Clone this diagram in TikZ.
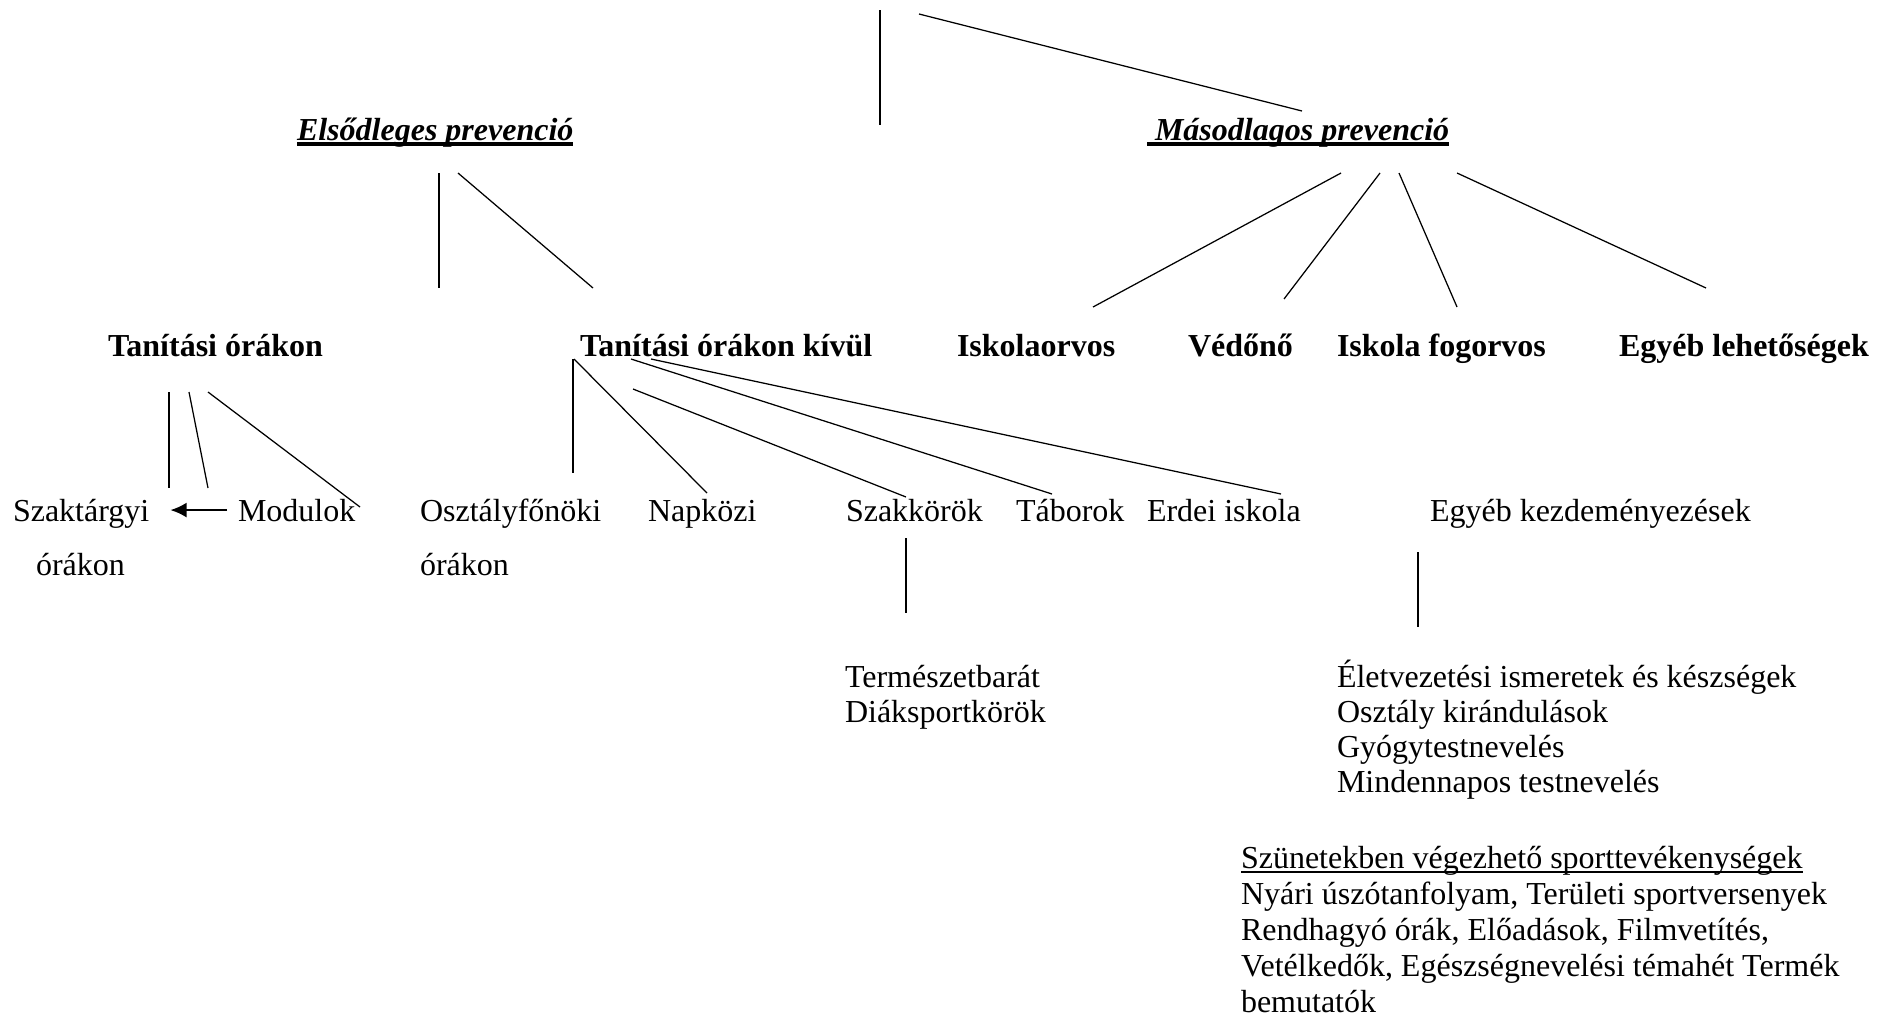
\documentclass[tikz,border=0pt]{standalone}
\usepackage{fontspec}
\setmainfont{Liberation Serif}
\usetikzlibrary{arrows.meta,calc}

\begin{document}
\begin{tikzpicture}[x=0.4pt,y=-0.4pt,
	szoveg/.style={anchor=base west,inner sep=0pt,outer sep=0pt,font=\fontsize{12.8}{15}\selectfont},
	fej/.style={szoveg,font=\fontsize{12.8}{15}\selectfont\bfseries},
	prev/.style={szoveg,font=\fontsize{12.8}{15}\selectfont\bfseries\itshape},
	ag/.style={black,line width=0.5pt},
	nyil/.style={black,line width=1pt,-{Latex[length=6.5pt,width=6pt]}}]
	\useasboundingbox (0,0) rectangle (1890,1022);
	
	%Prevenció
	\node[prev] (elso) at (297,140) {Elsődleges prevenció};
	\node[prev] (maso) at (1147,140) {\ Másodlagos prevenció};
	\draw[black,line width=1.6pt] ($(elso.base west)+(0,4)$) -- ($(elso.base east)+(0,4)$)
	($(maso.base west)+(0,4)$) -- ($(maso.base east)+(0,4)$);
	
	%Második szint
	\node[fej] (tanor) at (108,356) {Tanítási órákon};
	\node[fej] (kivul) at (580,356) {Tanítási órákon kívül};
	\node[fej] (iskorv) at (957,356) {Iskolaorvos};
	\node[fej] (vedono) at (1188,356) {Védőnő};
	\node[fej] (fogorv) at (1337,356) {Iskola fogorvos};
	\node[fej] (egyleh) at (1619,356) {Egyéb lehetőségek};
	
	%Harmadik szint
	\node[szoveg] (szak1) at (13,521) {Szaktárgyi};
	\node[szoveg] (szak2) at (36,575) {órákon};
	\node[szoveg] (modul) at (238,521) {Modulok};
	\node[szoveg] (oszt1) at (420,521) {Osztályfőnöki};
	\node[szoveg] (oszt2) at (420,575) {órákon};
	\node[szoveg] (napk) at (648,521) {Napközi};
	\node[szoveg] (szakk) at (846,521) {Szakkörök};
	\node[szoveg] (tabor) at (1016,521) {Táborok};
	\node[szoveg] (erdei) at (1147,521) {Erdei iskola};
	\node[szoveg] (egykezd) at (1430,521) {Egyéb kezdeményezések};
	
	\draw[nyil,shorten <=4.4pt,shorten >=8.4pt] (modul.west) -- (modul.west -| szak1.east);
	
	%Negyedik szint
	\node[szoveg] (term) at (845,687) {Természetbarát};
	\node[szoveg] (diak) at (845,722) {Diáksportkörök};
	\node[szoveg] (elet1) at (1337,687) {Életvezetési ismeretek és készségek};
	\node[szoveg] (elet2) at (1337,722) {Osztály kirándulások};
	\node[szoveg] (elet3) at (1337,757) {Gyógytestnevelés};
	\node[szoveg] (elet4) at (1337,792) {Mindennapos testnevelés};
	
	\node[szoveg] (szun) at (1241,868) {Szünetekben végezhető sporttevékenységek};
	\draw[black,line width=0.8pt] ($(szun.base west)+(0,4)$) -- ($(szun.base east)+(0,4)$);
	\node[szoveg] (szun1) at (1241,904) {Nyári úszótanfolyam, Területi sportversenyek};
	\node[szoveg] (szun2) at (1241,940) {Rendhagyó órák, Előadások, Filmvetítés,};
	\node[szoveg] (szun3) at (1241,976) {Vetélkedők, Egészségnevelési témahét Termék};
	\node[szoveg] (szun4) at (1241,1012) {bemutatók};
	
	%Vonalak
	\foreach \v/\xa/\ya/\xb/\yb in {
		t1/880/10/880/125, t2/919/14/1302/111,
		e1/439/173/439/288, e2/458/173/593/288,
		m1/1341/173/1093/307, m2/1380/173/1284/299, m3/1399/173/1457/307, m4/1457/173/1706/288,
		o1/169/392/169/488, o2/189/392/208/488, o3/208/392/360/507,
		k1/573/359/573/473, k2/574/359/707/493, k3/633/389/906/497, k4/631/359/1052/494, k5/651/359/1281/494,
		s1/906/538/906/613, g1/1418/552/1418/627}
	{
		\coordinate (\v-a) at (\xa,\ya);
		\coordinate (\v-b) at (\xb,\yb);
		\draw[ag] (\v-a) -- (\v-b);
	}
\end{tikzpicture}
\end{document}
